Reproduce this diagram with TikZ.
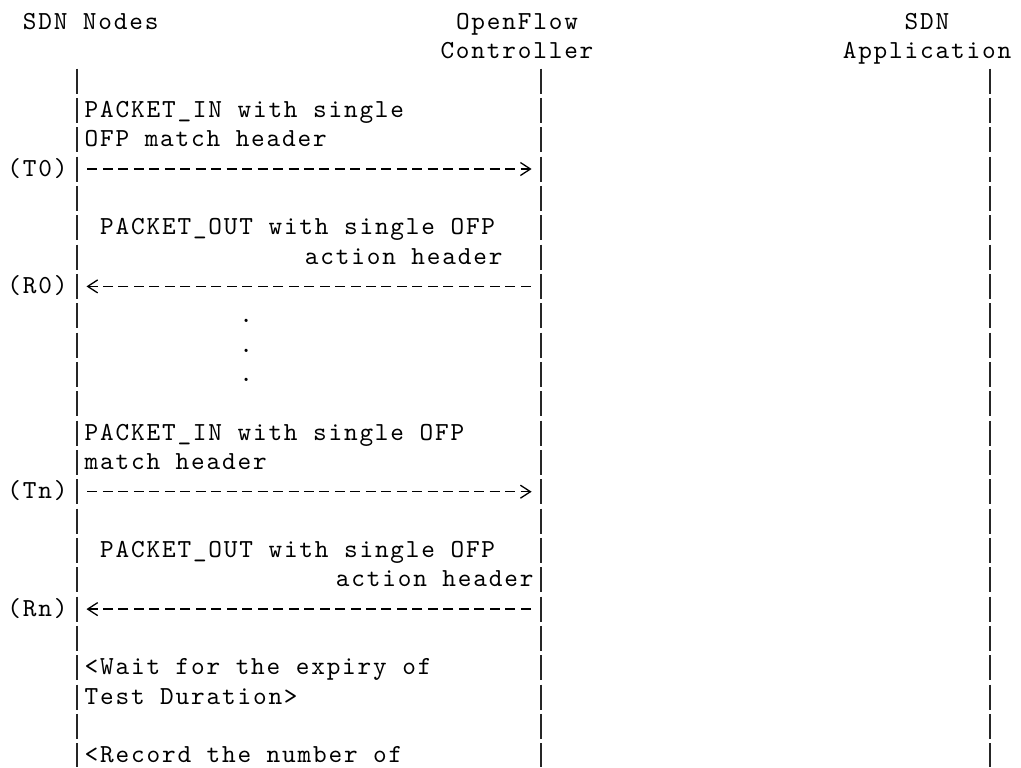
\documentclass[tikz,border=0pt]{standalone}
\usepackage{fontspec}
\newfontfamily\diagfont{lmmono10-regular.otf}[LetterSpace=7.0]
\usepackage{tikz}
\usetikzlibrary{arrows.meta}
\tikzset{
  lifeline/.style = {black!85, line width=1pt, dash pattern=on 12.5pt off 2.17pt},
  msg/.style = {black, line width=0.65pt, dash pattern=on 5pt off 2.735pt,
    -{Straight Barb[length=5pt,width=6.5pt]}, shorten <=5.2pt, shorten >=4.75pt},
  txt/.style = {anchor=base west, inner sep=0pt, outer sep=0pt,
    font=\diagfont\fontsize{13pt}{14pt}\selectfont},
}

\begin{document}
\begin{tikzpicture}[x=0.5pt,y=-0.5pt]
      \useasboundingbox (0,0) rectangle (1021,767);
      % heads
      \node[txt] (hsdn) at (22.9,29.3) {SDN Nodes};
      \node[txt] (hofc) at (456.0,29.3) {OpenFlow};
      \node[txt] (hsdnapp) at (904.6,29.3) {SDN};
      \node[txt] (hctl) at (440.5,58.6) {Controller};
      \node[txt] (happ) at (842.8,58.6) {Application};

      % lifelines
      \coordinate (sdntop) at (77,68.5);   \coordinate (sdnbot) at (77,767);
      \coordinate (ctltop) at (541.1,68.5); \coordinate (ctlbot) at (541.1,767);
      \coordinate (apptop) at (989.7,68.5); \coordinate (appbot) at (989.7,767);
      \draw[lifeline] (sdntop) -- (sdnbot);
      \draw[lifeline] (ctltop) -- (ctlbot);
      \draw[lifeline] (apptop) -- (appbot);

      % first round
      \node[txt] (pin0a) at (84.7,117.3) {PACKET\_IN with single};
      \node[txt] (pin0b) at (84.7,146.7) {OFP match header};
      \node[txt] (t0) at (7.4,176.0) {(T0)};
      \node[txt] (pout0a) at (100.2,234.7) {PACKET\_OUT with single OFP};
      \node[txt,anchor=base east] (pout0b) at (502.4,264.0) {action header};
      \node[txt] (r0) at (7.4,293.4) {(R0)};
      \coordinate (s0) at (77,169.0);  \coordinate (c0) at (541.1,169.0);
      \coordinate (s1) at (77,286.4);  \coordinate (c1) at (541.1,286.4);
      \path (s0) edge[msg] (c0);
      \path (c1) edge[msg] (s1);

      \node[txt] (dot1) at (239.4,322.7) {.};
      \node[txt] (dot2) at (239.4,352.0) {.};
      \node[txt] (dot3) at (239.4,381.4) {.};

      % last round
      \node[txt] (pinna) at (84.7,440.1) {PACKET\_IN with single OFP};
      \node[txt] (pinnb) at (84.7,469.4) {match header};
      \node[txt] (tn) at (7.4,498.7) {(Tn)};
      \node[txt] (poutna) at (100.2,557.4) {PACKET\_OUT with single OFP};
      \node[txt,anchor=base east] (poutnb) at (533.4,586.8) {action header};
      \node[txt] (rn) at (7.4,616.1) {(Rn)};
      \coordinate (s2) at (77,491.7);  \coordinate (c2) at (541.1,491.7);
      \coordinate (s3) at (77,609.1);  \coordinate (c3) at (541.1,609.1);
      \path (s2) edge[msg] (c2);
      \path (c3) edge[msg] (s3);

      \node[txt] (wait1) at (84.7,674.8) {<Wait for the expiry of};
      \node[txt] (wait2) at (84.7,704.1) {Test Duration>};
      \node[txt] (rec1) at (84.7,762.8) {<Record the number of};
\end{tikzpicture}
\end{document}
